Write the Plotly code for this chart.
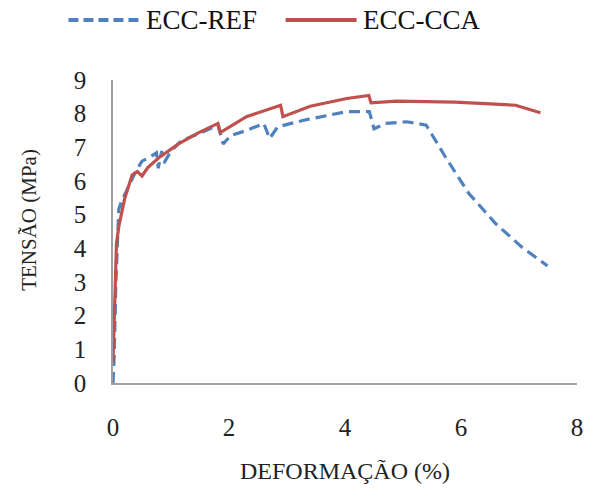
import plotly.graph_objects as go

ref_x = [0.0, 0.02, 0.05, 0.08, 0.1, 0.14, 0.25, 0.39, 0.5, 0.62, 0.75, 0.78, 0.84, 0.88, 1.0, 1.18, 1.47, 1.81, 1.9, 2.03, 2.3, 2.6, 2.7, 2.84, 3.3, 3.7, 4.03, 4.42, 4.5, 4.7, 5.06, 5.4, 5.74, 6.14, 6.6, 7.06, 7.49]
ref_y = [0.0, 0.78, 3.02, 4.65, 5.16, 5.37, 5.77, 6.28, 6.59, 6.69, 6.84, 6.38, 6.89, 6.54, 6.89, 7.2, 7.4, 7.66, 7.1, 7.35, 7.5, 7.71, 7.26, 7.61, 7.81, 7.96, 8.06, 8.06, 7.55, 7.71, 7.76, 7.66, 6.69, 5.62, 4.73, 4.02, 3.48]

cca_x = [0.0, 0.03, 0.06, 0.1, 0.2, 0.33, 0.42, 0.5, 0.6, 0.79, 1.13, 1.47, 1.81, 1.85, 2.3, 2.89, 2.93, 3.4, 4.03, 4.41, 4.45, 4.89, 5.9, 6.94, 7.37]
cca_y = [0.63, 2.52, 4.14, 4.65, 5.47, 6.18, 6.28, 6.15, 6.4, 6.69, 7.1, 7.43, 7.71, 7.44, 7.91, 8.25, 7.91, 8.22, 8.45, 8.54, 8.32, 8.37, 8.34, 8.25, 8.03]

series_names = ["ECC-REF", "ECC-CCA"]
x_ticks = [0, 2, 4, 6, 8]
y_ticks = [0, 1, 2, 3, 4, 5, 6, 7, 8, 9]
x_title = "DEFORMAÇÃO (%)"
y_title = "TENSÃO (MPa)"

font_family = "Liberation Serif"
blue = "#4F81BD"
red = "#C0504D"
blue_dash = "11px,6px"

fig = go.Figure()
fig.add_trace(go.Scatter(x=ref_x, y=ref_y, mode="lines", name=series_names[0],
                         line=dict(color=blue, width=3.2, dash=blue_dash)))
fig.add_trace(go.Scatter(x=cca_x, y=cca_y, mode="lines", name=series_names[1],
                         line=dict(color=red, width=3.2)))

# legend drawn as line samples + text above the plot
leg_y = 1.198
fig.add_shape(type="line", xref="paper", yref="paper", x0=-0.096, x1=0.057, y0=leg_y, y1=leg_y,
              line=dict(color=blue, width=4, dash="10px,5px"))
fig.add_shape(type="line", xref="paper", yref="paper", x0=0.372, x1=0.525, y0=leg_y, y1=leg_y,
              line=dict(color=red, width=4))
fig.add_annotation(xref="paper", yref="paper", x=0.066, y=leg_y, text=series_names[0],
                   showarrow=False, xanchor="left", yanchor="middle",
                   font=dict(size=27, family=font_family, color="#111111"))
fig.add_annotation(xref="paper", yref="paper", x=0.534, y=leg_y, text=series_names[1],
                   showarrow=False, xanchor="left", yanchor="middle",
                   font=dict(size=27, family=font_family, color="#111111"))

# y-axis title (slightly above plot centre, as in reference)
fig.add_annotation(xref="paper", yref="paper", x=-0.18, y=0.54, text=y_title,
                   showarrow=False, textangle=-90, xanchor="center", yanchor="middle",
                   font=dict(size=21, family=font_family, color="#222222"))

fig.update_layout(
    width=589, height=496,
    margin=dict(l=113, r=6, t=80, b=113),
    paper_bgcolor="white", plot_bgcolor="white",
    font=dict(family=font_family, color="#222222"),
    showlegend=False,
    xaxis=dict(range=[0, 8], tickvals=x_ticks, showgrid=False, zeroline=False,
               showline=True, linecolor="#A0A0A0", linewidth=1.5,
               ticks="outside", ticklen=21, tickcolor="rgba(0,0,0,0)",
               ticklabeloverflow="allow",
               tickfont=dict(size=25, family=font_family),
               title=dict(text=x_title, font=dict(size=24, family=font_family), standoff=22)),
    yaxis=dict(range=[0, 9], tickvals=y_ticks, showgrid=False, zeroline=False,
               showline=True, linecolor="#A0A0A0", linewidth=1.5,
               ticks="outside", ticklen=20, tickcolor="rgba(0,0,0,0)",
               ticklabeloverflow="allow",
               tickfont=dict(size=25, family=font_family)),
)

fig.write_html("out.html")
